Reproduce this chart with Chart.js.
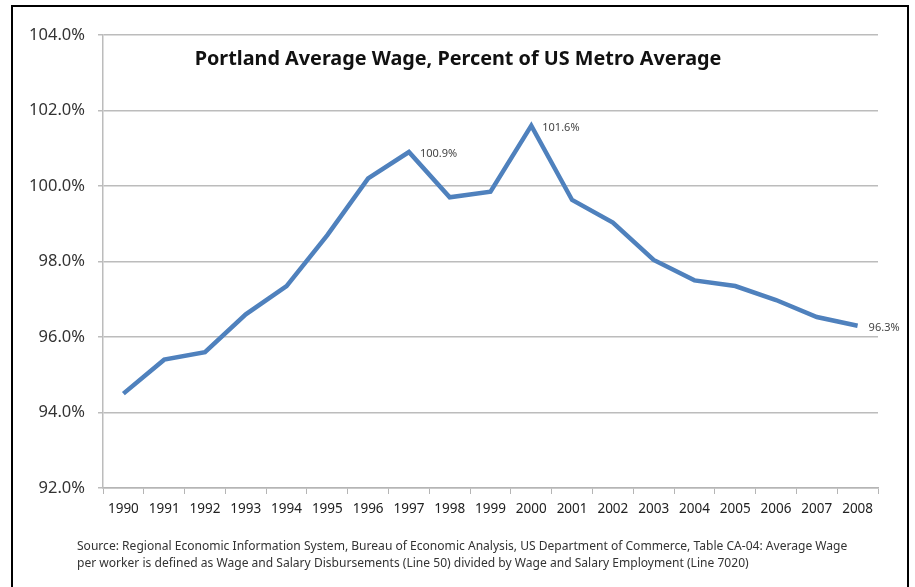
<!DOCTYPE html>
<html>
<head>
<meta charset="utf-8">
<script src="https://cdn.jsdelivr.net/npm/chart.js@4/dist/chart.umd.min.js"></script>
<style>
  html, body { margin: 0; padding: 0; background: #fff; }
  #wrap { position: relative; width: 915px; height: 587px; }
  canvas { display: block; }
</style>
</head>
<body>
<div id="wrap"><canvas id="c" width="915" height="587"></canvas></div>
<script>
const years = ['1990','1991','1992','1993','1994','1995','1996','1997','1998','1999',
               '2000','2001','2002','2003','2004','2005','2006','2007','2008'];
const wagePct = [94.5, 95.4, 95.6, 96.6, 97.35, 98.7, 100.2, 100.9, 99.7, 99.85,
                 101.6, 99.63, 99.03, 98.04, 97.5, 97.35, 96.98, 96.53, 96.3];
const labeledIdx = [7, 10, 18];
const yTicks = [92, 94, 96, 98, 100, 102, 104];
const titleText = 'Portland Average Wage, Percent of US Metro Average';
const sourceLines = [
  'Source: Regional Economic Information System, Bureau of Economic Analysis, US Department of Commerce, Table CA-04: Average Wage',
  'per worker is defined as Wage and Salary Disbursements (Line 50) divided by Wage and Salary Employment (Line 7020)'
];

const FONT = '"Noto Sans", "Open Sans", sans-serif';

function fitFont(ctx, text, weight, targetW, base) {
  ctx.font = weight + ' ' + base + 'px ' + FONT;
  const w = ctx.measureText(text).width;
  return base * targetW / w;
}

const decor = {
  id: 'decor',
  beforeDraw(chart) {
    const ctx = chart.ctx;
    ctx.save();
    ctx.fillStyle = '#fff';
    ctx.fillRect(0, 0, chart.width, chart.height);
    ctx.restore();
  },
  afterDraw(chart) {
    const ctx = chart.ctx;
    ctx.save();
    ctx.strokeStyle = '#000';
    ctx.lineWidth = 2;
    ctx.strokeRect(12, 6, 896, 600);
    const ts = fitFont(ctx, titleText, 'bold', 527, 20);
    ctx.font = 'bold ' + ts.toFixed(2) + 'px ' + FONT;
    ctx.fillStyle = '#111';
    ctx.textAlign = 'center';
    ctx.textBaseline = 'middle';
    ctx.fillText(titleText, 458, 59);
    const meta = chart.getDatasetMeta(0);
    ctx.font = '11px ' + FONT;
    ctx.fillStyle = '#444';
    ctx.textAlign = 'left';
    labeledIdx.forEach(i => {
      const p = meta.data[i];
      ctx.fillText(wagePct[i].toFixed(1) + '%', p.x + 11, p.y + 2);
    });
    const fs = fitFont(ctx, sourceLines[0], 'normal', 771, 12);
    ctx.font = fs.toFixed(2) + 'px ' + FONT;
    ctx.fillStyle = '#333';
    ctx.fillText(sourceLines[0], 77, 547);
    ctx.fillText(sourceLines[1], 77, 564);
    ctx.restore();
  }
};

new Chart(document.getElementById('c'), {
  type: 'line',
  data: {
    labels: years,
    datasets: [{
      data: wagePct,
      borderColor: '#4f81bd',
      borderWidth: 4.5,
      pointRadius: 0,
      tension: 0,
      fill: false,
      borderJoinStyle: 'miter'
    }]
  },
  options: {
    responsive: false,
    animation: false,
    devicePixelRatio: 1,
    layout: { padding: { left: 12, right: 37, top: 35, bottom: 59 } },
    plugins: { legend: { display: false }, tooltip: { enabled: false }, title: { display: false } },
    scales: {
      x: {
        type: 'category',
        offset: true,
        grid: { display: true, drawOnChartArea: false, drawTicks: true, tickLength: 6, color: '#b5b5b5', offset: true },
        border: { display: true, color: '#b5b5b5', width: 1.5 },
        ticks: { color: '#222', font: { family: FONT, size: 13.5 }, padding: 7, maxRotation: 0, autoSkip: false },
        afterFit(s) { s.height = 40; }
      },
      y: {
        min: 92, max: 104,
        afterBuildTicks(s) { s.ticks = yTicks.map(v => ({ value: v })); },
        grid: { color: '#bcbcbc', lineWidth: 1.5, drawTicks: true, tickLength: 5 },
        border: { display: true, color: '#bcbcbc', width: 1.5 },
        ticks: {
          color: '#333',
          font: { family: FONT, size: 16.5 },
          padding: 13,
          callback: v => Number(v).toFixed(1) + '%'
        },
        afterFit(s) { s.width = 91; }
      }
    }
  },
  plugins: [decor]
});
</script>
</body>
</html>
